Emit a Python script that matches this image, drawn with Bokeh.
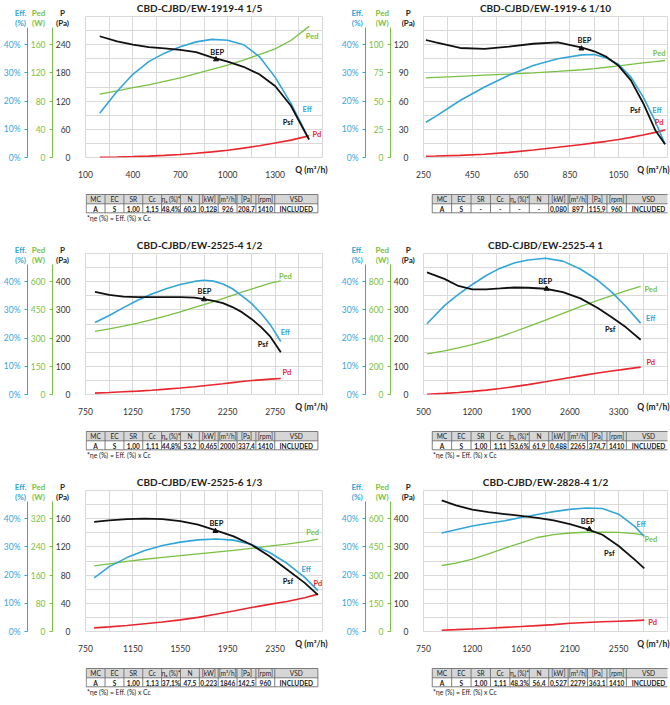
from bokeh.plotting import figure
from bokeh.models import Range1d, LinearAxis, FixedTicker, PrintfTickFormatter, GridBox
from bokeh.layouts import column, row
from bokeh.embed import file_html
from bokeh.resources import INLINE
from bokeh.core.properties import value

FONT = "Lato"
C_EFF = "#33A6D8"
C_PED = "#7AC143"
C_PD = "#E8262E"
C_PSF = "#111111"
GRID = "#D9D9D9"
TXT = "#333333"

# ---------------- data ----------------
TITLES = ["CBD-CJBD/EW-1919-4 1/5", "CBD-CJBD/EW-1919-6 1/10",
          "CBD-CJBD/EW-2525-4 1/2", "CBD-CJBD/EW-2525-4 1",
          "CBD-CJBD/EW-2525-6 1/3", "CBD-CJBD/EW-2828-4 1/2"]

Q1 = [190, 300, 400, 500, 600, 700, 800, 900, 1000, 1100, 1200, 1300, 1400, 1515]
PSF1 = [258, 247, 240, 235, 232, 229, 224, 213, 204, 193, 177, 152, 110, 38]
EFF1 = [15.7, 23.5, 29.5, 34, 37, 39.3, 41, 41.9, 41.6, 40, 35.8, 28.5, 19.2, 6.5]
PED1 = [90, 94.5, 99, 103, 108, 113, 119, 125, 131, 138, 146, 154, 166, 186]
PD1 = [0.5, 1.2, 2, 3, 4.5, 6.5, 9, 12, 15.5, 20, 25, 31, 37, 46]

Q2 = [260, 300, 400, 500, 600, 700, 800, 900, 950, 1000, 1050, 1100, 1150, 1200, 1240]
PSF2 = [125, 122.5, 116.5, 115.5, 118, 121, 122.5, 117, 113, 107, 97.5, 82, 58, 29, 14]
EFF2 = [12.5, 14.6, 20.2, 25, 29.2, 32.6, 35, 36.4, 36.5, 35.3, 33, 28.5, 21.5, 12.8, 4.7]
PED2 = [70.6, 71, 72, 73, 74, 75, 76.3, 77.8, 78.8, 80, 81.3, 82.6, 83.8, 85, 86]
PD2 = [1.4, 1.6, 2.3, 3.5, 5.5, 8, 10.9, 13.9, 15.6, 17.2, 19.2, 21.4, 23.9, 26.7, 29.2]

Q3 = [850, 1000, 1150, 1300, 1450, 1600, 1750, 1900, 2000, 2100, 2200, 2300, 2400, 2500, 2600, 2700, 2810]
PSF3 = [364, 353, 347, 345, 345, 345, 345, 343.5, 338, 332, 324, 310, 292, 268, 240, 205, 150]
EFF3 = [25.5, 28, 30.8, 33.4, 35.6, 37.5, 39, 40.1, 40.5, 40.2, 39.2, 37.5, 35, 32.3, 28.8, 24.7, 18.8]
PED3 = [336, 349, 364, 380, 398, 418, 440, 463, 478, 494, 510, 527, 544, 561, 577, 592, 605]
PD3 = [5, 7, 9.5, 12, 15, 19, 23, 27.5, 31, 34.5, 38, 42, 46, 49.5, 52, 54.5, 57]

Q4 = [550, 800, 1000, 1200, 1400, 1600, 1800, 2000, 2250, 2500, 2750, 3000, 3200, 3400, 3615]
PSF4 = [433, 410, 385, 373, 373, 376, 379.5, 378.5, 375, 363, 341, 307, 274, 239, 194]
EFF4 = [25.1, 31.5, 35.5, 39, 42.2, 44.8, 46.6, 47.7, 48.3, 47.3, 44.5, 40.5, 36.3, 31.3, 25.3]
PED4 = [288, 310, 330, 354, 380, 410, 445, 482, 528, 576, 623, 668, 702, 735, 766]
PD4 = [1, 4, 7, 11, 15.5, 21, 28, 35, 45, 56, 66, 76.5, 83.5, 90, 97]

Q5 = [823, 950, 1100, 1250, 1400, 1550, 1700, 1850, 2000, 2150, 2300, 2450, 2600, 2711]
PSF5 = [155.5, 157.5, 159.5, 160, 159.3, 156.5, 151.5, 143.5, 135, 123, 107, 88, 69, 52]
EFF5 = [19, 23, 26.2, 28.7, 30.5, 31.7, 32.5, 32.8, 32.4, 30.9, 28.1, 24.2, 19.2, 14.5]
PED5 = [186, 192, 199, 205, 210, 215, 220, 225, 230, 236, 242, 248, 255, 262]
PD5 = [5.2, 6.5, 8.5, 11, 13.5, 16.5, 20, 24.5, 29, 34, 38.5, 42.5, 48, 53]

Q6 = [918, 1050, 1200, 1350, 1500, 1650, 1800, 1950, 2100, 2250, 2400, 2550, 2700, 2786]
PSF6 = [465, 447, 432, 423, 416.5, 410, 403, 394, 381, 364, 343, 303, 254, 224]
EFF6 = [34.9, 36.1, 37.4, 38.4, 39.3, 40.4, 41.5, 42.5, 43.3, 43.8, 43.6, 41.6, 37.2, 33.7]
PED6 = [351, 364, 385, 413, 443, 472, 500, 515, 524, 528, 529, 527, 521, 513]
PD6 = [4.7, 6.5, 9, 11.5, 14.5, 17.5, 21, 24.5, 29, 32, 34.5, 36.5, 38.5, 40.4]

# BEP (Q, Psf) from the tables
BEP_Q = [926, 897, 2000, 2265, 1846, 2279]
BEP_P = [208.7, 115.9, 337.4, 374.7, 142.5, 363.1]

# axis ticks / ranges
X_RANGES = [(100, 1600), (250, 1250), (750, 3250), (500, 4000), (750, 2750), (750, 3000)]
X_TICKS = [[100, 400, 700, 1000, 1300], [250, 450, 650, 850, 1050],
           [750, 1250, 1750, 2250, 2750], [500, 1200, 1900, 2600, 3300],
           [750, 1150, 1550, 1950, 2350], [750, 1200, 1650, 2100, 2550]]
X_GRID_STEP = [150, 100, 250, 350, 200, 225]
P_MAX = [300, 150, 500, 500, 200, 500]
P_TICKS = [[0, 60, 120, 180, 240], [0, 30, 60, 90, 120], [0, 100, 200, 300, 400],
           [0, 100, 200, 300, 400], [0, 40, 80, 120, 160], [0, 100, 200, 300, 400]]
PED_MAX = [200, 125, 750, 1000, 400, 750]
PED_TICKS = [[0, 40, 80, 120, 160], [0, 25, 50, 75, 100], [0, 150, 300, 450, 600],
             [0, 200, 400, 600, 800], [0, 80, 160, 240, 320], [0, 150, 300, 450, 600]]
EFF_MAX = 50
EFF_TICKS = [0, 10, 20, 30, 40]

# curve name labels (x in Q, y in P units)
LBL_NAMES = ["BEP", "Ped", "Eff", "Psf", "Pd"]
LBL_X = [[934, 1534, 1503, 1381, 1564], [910, 1216, 1207, 1118, 1216],
         [2005, 2858, 2858, 2622, 2875], [2244, 3760, 3760, 3179, 3760],
         [1854, 2667, 2613, 2459, 2711], [2265, 2847, 2755, 2464, 2862]]
LBL_Y = [[224, 258, 103, 75, 50], [124, 111, 50.5, 50.5, 37.4],
         [364, 418, 219, 177, 78.5], [402, 374, 271, 230, 112],
         [153, 140.5, 88, 71, 67.4], [390.5, 325, 378.6, 278, 31]]

# axis headers
HEAD_TOP = ["Eff.", "Ped", "P"]
HEAD_BOT = ["(%)", "(W)", "(Pa)"]
Q_LABEL = "Q (m³/h)"

# tables
TABLE_HEAD = ["MC", "EC", "SR", "Cc", "ηₑ (%)*", "N", "[kW]", "[m³/h]", "[Pa]", "[rpm]", "VSD"]
T1 = ["A", "S", "1,00", "1,15", "48,4%", "60,3", "0,128", "926", "208,7", "1410", "INCLUDED"]
T2 = ["A", "S", "-", "-", "-", "-", "0,080", "897", "115,9", "960", "INCLUDED"]
T3 = ["A", "S", "1,00", "1,11", "44,8%", "53,2", "0,465", "2000", "337,4", "1410", "INCLUDED"]
T4 = ["A", "S", "1,00", "1,11", "53,6%", "61,9", "0,488", "2265", "374,7", "1410", "INCLUDED"]
T5 = ["A", "S", "1,00", "1,13", "37,1%", "47,5", "0,223", "1846", "142,5", "960", "INCLUDED"]
T6 = ["A", "S", "1,00", "1,11", "48,3%", "56,4", "0,527", "2279", "363,1", "1410", "INCLUDED"]
FOOTNOTE = "*ηe  (%) = Eff. (%) x Cc"
HAS_FOOT = [True, False, True, True, True, True]

SERIES = [(Q1, PSF1, EFF1, PED1, PD1), (Q2, PSF2, EFF2, PED2, PD2), (Q3, PSF3, EFF3, PED3, PD3),
          (Q4, PSF4, EFF4, PED4, PD4), (Q5, PSF5, EFF5, PED5, PD5), (Q6, PSF6, EFF6, PED6, PD6)]
TABLES = [T1, T2, T3, T4, T5, T6]

W, H = 670, 705
ROW_H = [237, 237, 231]
ROW_TOP = [0, 237, 474]
COL_L = [0, 335]
CHART_H = 182
TOP_B, BOT_B = 16, 25
ML = [76, 88]
MR = [13, 3]


def steps(start, stop, step):
    out, v = [], start
    while v <= stop + 1e-9:
        out.append(v)
        v += step
    return out


def style_axis(ax, color, size="8.5px"):
    ax.major_label_text_font = FONT
    ax.major_label_text_font_size = size
    ax.major_label_text_color = color
    ax.minor_tick_line_color = None


def make_chart(i, col):
    q, psf, eff, ped, pd = SERIES[i]
    p = figure(width=335, height=CHART_H, x_range=Range1d(*X_RANGES[i]),
               y_range=Range1d(0, P_MAX[i]), output_backend="svg",
               toolbar_location=None, title_location=None,
               min_border_left=ML[col], min_border_right=MR[col],
               min_border_top=TOP_B, min_border_bottom=BOT_B)
    p.outline_line_color = GRID
    p.extra_y_ranges = {"eff": Range1d(0, EFF_MAX), "ped": Range1d(0, PED_MAX[i])}
    p.xgrid.ticker = FixedTicker(ticks=steps(X_RANGES[i][0], X_RANGES[i][1], X_GRID_STEP[i]))
    p.ygrid.ticker = FixedTicker(ticks=steps(0, P_MAX[i], P_TICKS[i][1] / 2))
    p.xgrid.grid_line_color = GRID
    p.ygrid.grid_line_color = GRID

    xa = p.xaxis[0]
    xa.ticker = FixedTicker(ticks=X_TICKS[i])
    xa.axis_line_color = None
    xa.major_tick_line_color = None
    xa.major_label_standoff = 7
    style_axis(xa, TXT)

    ya = p.yaxis[0]
    ya.ticker = FixedTicker(ticks=P_TICKS[i])
    ya.axis_line_color = None
    ya.major_tick_line_color = None
    ya.major_label_standoff = 9
    style_axis(ya, TXT)

    ped_ax = LinearAxis(y_range_name="ped", ticker=FixedTicker(ticks=PED_TICKS[i]),
                        bounds=(0, PED_MAX[i] * 0.92), axis_line_color=C_PED,
                        major_tick_line_color=C_PED, major_tick_out=3, major_tick_in=0,
                        major_label_standoff=4)
    style_axis(ped_ax, C_PED)
    eff_ax = LinearAxis(y_range_name="eff", ticker=FixedTicker(ticks=EFF_TICKS),
                        bounds=(0, EFF_MAX * 0.92), axis_line_color=C_EFF,
                        major_tick_line_color=C_EFF, major_tick_out=3, major_tick_in=0,
                        major_label_standoff=4,
                        formatter=PrintfTickFormatter(format="%d%%"))
    style_axis(eff_ax, C_EFF)
    p.add_layout(ped_ax, "left")
    p.add_layout(eff_ax, "left")

    p.line(q, pd, color=C_PD, line_width=1.6)
    p.line(q, ped, color=C_PED, line_width=1.3, y_range_name="ped")
    p.line(q, eff, color=C_EFF, line_width=1.6, y_range_name="eff")
    p.line(q, psf, color=C_PSF, line_width=1.8)
    p.scatter([BEP_Q[i]], [BEP_P[i]], marker="triangle", size=5, color=C_PSF)

    colors = [C_PSF, C_PED, C_EFF, C_PSF, C_PD]
    p.text(x=LBL_X[i], y=LBL_Y[i], text=LBL_NAMES, text_color=colors,
           text_font=value(FONT), text_font_style="bold", text_font_size="7.5px",
           text_align="center", text_baseline="middle")
    return p


def make_table(i, col, h):
    t = figure(width=335, height=h, x_range=Range1d(0, 335), y_range=Range1d(h, 0),
               output_backend="svg", toolbar_location=None, title_location=None,
               x_axis_location=None, y_axis_location=None, min_border=0)
    t.grid.visible = False
    t.outline_line_color = None
    x0 = 1 if col == 0 else 12
    widths = [26.65] * 10 + [61]
    edges = [x0]
    for w in widths:
        edges.append(edges[-1] + w)
    top, mid, bot = 12, 21.3, 30.3
    t.quad(left=edges[:-1], right=edges[1:], top=top, bottom=mid,
           fill_color="#D6D6D6", line_color=None)
    xs = [[e, e] for e in edges] + [[edges[0], edges[-1]]] * 3
    ys = [[top, bot] for _ in edges] + [[top, top], [mid, mid], [bot, bot]]
    t.multi_line(xs, ys, line_color="#6E6E6E", line_width=0.9)
    cx = [(a + b) / 2 for a, b in zip(edges[:-1], edges[1:])]
    t.text(x=cx, y=[(top + mid) / 2 + 0.3] * 11, text=TABLE_HEAD, text_font=value(FONT),
           text_font_size="6.6px", text_color="#222222", text_align="center",
           text_baseline="middle")
    t.text(x=cx, y=[(mid + bot) / 2 + 0.3] * 11, text=TABLES[i], text_font=value(FONT),
           text_font_size="6.6px", text_font_style="bold", text_color="#222222",
           text_align="center", text_baseline="middle")
    if HAS_FOOT[i]:
        t.text(x=[x0 + 1], y=[35.8], text=[FOOTNOTE], text_font=value(FONT),
               text_font_size="6.8px", text_color="#222222", text_align="left",
               text_baseline="middle")
    return t


rows = []
for r in range(3):
    cols = []
    for c in range(2):
        i = r * 2 + c
        cols.append(column(make_chart(i, c), make_table(i, c, ROW_H[r] - CHART_H)))
    rows.append(row(*cols))
main = column(*rows)

# transparent overlay (page pixel coordinates) for texts outside the plot frames
ov = figure(width=W, height=H, x_range=Range1d(0, W), y_range=Range1d(H, 0),
            output_backend="svg", toolbar_location=None, title_location=None,
            x_axis_location=None, y_axis_location=None, min_border=0,
            background_fill_color=None, border_fill_color=None)
ov.grid.visible = False
ov.outline_line_color = None

tx, ty, tt = [], [], []
hx, hy, ht, hc = [], [], [], []
qx, qy = [], []
head_x = [[20, 38, 62], [21.7, 46.7, 72.7]]
head_c = [C_EFF, C_PED, "#222222"]
for r in range(3):
    for c in range(2):
        i = r * 2 + c
        fw = 335 - ML[c] - MR[c]
        tx.append(COL_L[c] + ML[c] + fw / 2)
        ty.append(ROW_TOP[r] + 7.5)
        tt.append(TITLES[i])
        for k in range(3):
            for txt, dy in ((HEAD_TOP[k], 12.7), (HEAD_BOT[k], 22.7)):
                hx.append(COL_L[c] + head_x[c][k])
                hy.append(ROW_TOP[r] + dy)
                ht.append(txt)
                hc.append(head_c[k])
        qy.append(ROW_TOP[r] + 169.5)
        qx.append(COL_L[c] + (327 if c == 0 else 334))

ov.text(x=tx, y=ty, text=tt, text_font=value(FONT), text_font_size="10px",
        text_font_style="bold", text_color="#222222", text_align="center",
        text_baseline="middle")
ov.text(x=hx, y=hy, text=ht, text_color=hc, text_font=value(FONT), text_font_size="8px",
        text_font_style="bold", text_align="center", text_baseline="middle")
ov.text(x=qx, y=qy, text=[Q_LABEL] * 6, text_font=value(FONT), text_font_size="8.5px",
        text_font_style="bold", text_color="#222222", text_align="right",
        text_baseline="middle")

page = GridBox(children=[(main, 0, 0), (ov, 0, 0)])

open("out.html", "w").write(file_html(page, INLINE))
